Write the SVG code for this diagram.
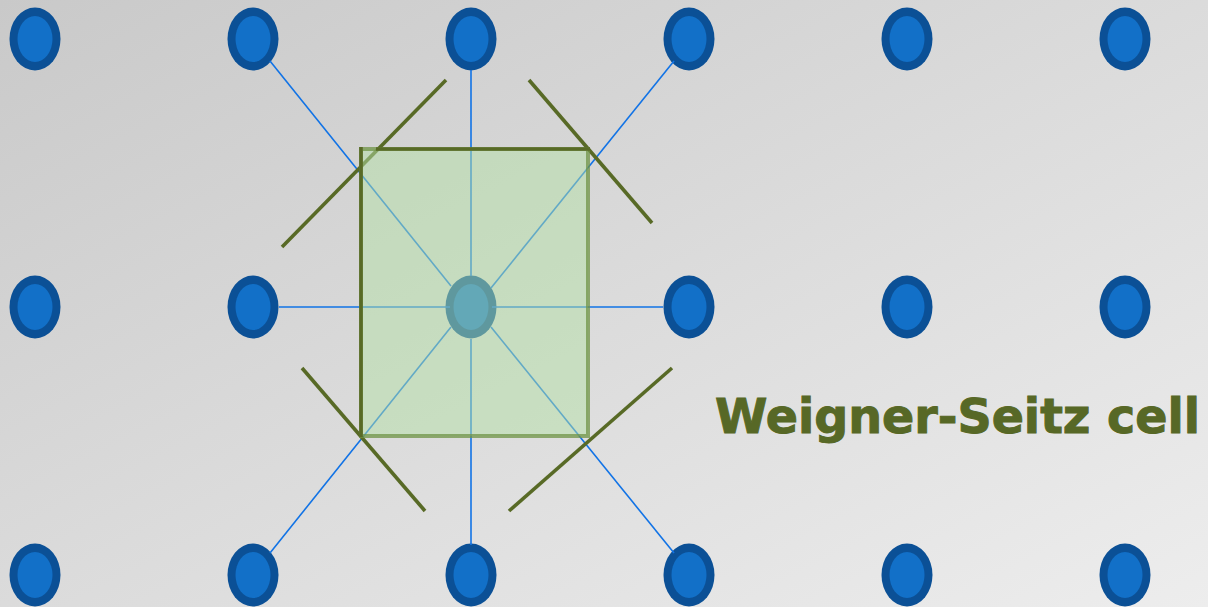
<svg xmlns="http://www.w3.org/2000/svg" width="1208" height="607" viewBox="0 0 1208 607">
  <defs>
    <linearGradient id="bg" x1="0" y1="0" x2="1" y2="1">
      <stop offset="0" stop-color="#c9c9c9"/>
      <stop offset="1" stop-color="#ededed"/>
    </linearGradient>
    <g id="atom">
      <ellipse cx="0" cy="0" rx="25.5" ry="31.5" fill="#0b5096"/>
      <ellipse cx="0" cy="0" rx="17.5" ry="23" fill="#1270c8"/>
    </g>
  </defs>
  <style>
    .bond { stroke: #1173e6; stroke-width: 1.6; fill: none; }
    .plane { stroke: #586a26; stroke-width: 3.6; fill: none; stroke-linecap: butt; }
    .label { font-family: "DejaVu Sans", Verdana, sans-serif; font-weight: bold; font-size: 48px; fill: #576826; stroke: #576826; stroke-width: 1; }
  </style>

  <rect x="0" y="0" width="1208" height="607" fill="url(#bg)"/>

  <!-- lattice points -->
  <g id="lattice">
    <g id="p-0-0"><use href="#atom" x="35" y="39"/></g>
    <g id="p-1-0"><use href="#atom" x="253" y="39"/></g>
    <g id="p-2-0"><use href="#atom" x="471" y="39"/></g>
    <g id="p-3-0"><use href="#atom" x="689" y="39"/></g>
    <g id="p-4-0"><use href="#atom" x="907" y="39"/></g>
    <g id="p-5-0"><use href="#atom" x="1125" y="39"/></g>
    <g id="p-0-1"><use href="#atom" x="35" y="307"/></g>
    <g id="p-1-1"><use href="#atom" x="253" y="307"/></g>
    <g id="p-2-1"><use href="#atom" x="471" y="307"/></g>
    <g id="p-3-1"><use href="#atom" x="689" y="307"/></g>
    <g id="p-4-1"><use href="#atom" x="907" y="307"/></g>
    <g id="p-5-1"><use href="#atom" x="1125" y="307"/></g>
    <g id="p-0-2"><use href="#atom" x="35" y="575"/></g>
    <g id="p-1-2"><use href="#atom" x="253" y="575"/></g>
    <g id="p-2-2"><use href="#atom" x="471" y="575"/></g>
    <g id="p-3-2"><use href="#atom" x="689" y="575"/></g>
    <g id="p-4-2"><use href="#atom" x="907" y="575"/></g>
    <g id="p-5-2"><use href="#atom" x="1125" y="575"/></g>
  </g>

  <!-- bonds from the central point to its nearest neighbours -->
  <g id="connectors">
    <line class="bond" x1="471" y1="70" x2="471" y2="276"/>
    <line class="bond" x1="471" y1="339" x2="471" y2="545"/>
    <line class="bond" x1="279" y1="307" x2="450" y2="307"/>
    <line class="bond" x1="492" y1="307" x2="663" y2="307"/>
    <line class="bond" x1="270" y1="61" x2="451" y2="286"/>
    <line class="bond" x1="674" y1="61" x2="491" y2="288"/>
    <line class="bond" x1="270" y1="553" x2="451" y2="327"/>
    <line class="bond" x1="674" y1="553" x2="491" y2="327"/>
  </g>

  <!-- perpendicular bisector planes -->
  <g id="bisectors">
    <line class="plane" x1="282" y1="247" x2="446" y2="80"/>
    <line class="plane" x1="529" y1="80" x2="652" y2="223"/>
    <line class="plane" x1="302" y1="368" x2="425" y2="511"/>
    <line class="plane" x1="509" y1="511" x2="672" y2="368"/>
  </g>

  <!-- the cell itself -->
  <g id="cell">
    <rect x="361" y="149" width="227" height="287" fill="#b4e0a6" fill-opacity="0.5" stroke="#6f9346" stroke-opacity="0.75" stroke-width="4"/>
    <line class="plane" x1="361" y1="147" x2="361" y2="437"/>
    <line class="plane" x1="376" y1="149" x2="590" y2="149"/>
  </g>

  <g id="caption">
    <text class="label" x="715" y="433" textLength="485" lengthAdjust="spacingAndGlyphs">Weigner-Seitz cell</text>
  </g>
</svg>
